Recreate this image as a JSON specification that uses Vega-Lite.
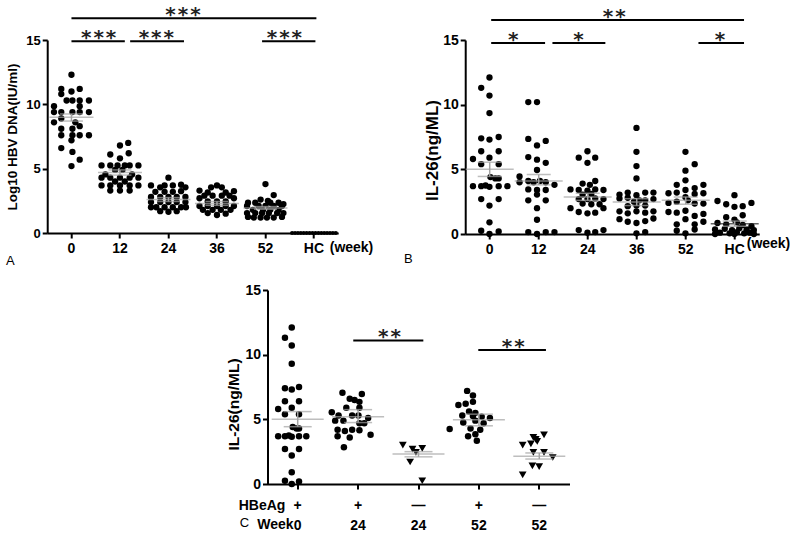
{
"$schema":"https://vega.github.io/schema/vega-lite/v6.json",
"padding":{"left":5,"top":5,"right":0,"bottom":0},
"background":"white",
"config":{"view":{"stroke":null},"font":"Liberation Sans",
 "axis":{"domainColor":"black","domainWidth":2,"tickColor":"black","tickWidth":2,"tickSize":5,"labelColor":"black","labelFont":"Liberation Sans","labelFontWeight":"bold","titleFont":"Liberation Sans","titleFontWeight":"bold","titleColor":"black","grid":false}},
"datasets":{
"ptsA":[
{"g":"0","v":12.3,"dx":0},{"g":"0","v":11.2,"dx":-0.21},{"g":"0","v":11.2,"dx":0.17},{"g":"0","v":11.0,"dx":0},{"g":"0","v":10.8,"dx":-0.21},{"g":"0","v":10.3,"dx":-0.1},{"g":"0","v":10.3,"dx":0.02},{"g":"0","v":10.3,"dx":0.17},{"g":"0","v":10.3,"dx":0.36},{"g":"0","v":9.85,"dx":-0.36},{"g":"0","v":9.85,"dx":0.17},{"g":"0","v":9.4,"dx":-0.36},{"g":"0","v":9.4,"dx":-0.21},{"g":"0","v":9.4,"dx":0.02},{"g":"0","v":9.4,"dx":0.17},{"g":"0","v":9.4,"dx":0.36},{"g":"0","v":8.9,"dx":-0.21},{"g":"0","v":8.6,"dx":-0.36},{"g":"0","v":8.6,"dx":0.08},{"g":"0","v":8.1,"dx":-0.21},{"g":"0","v":8.1,"dx":0.02},{"g":"0","v":8.3,"dx":0.17},{"g":"0","v":7.6,"dx":-0.21},{"g":"0","v":7.6,"dx":0.02},{"g":"0","v":7.6,"dx":0.17},{"g":"0","v":7.6,"dx":0.36},{"g":"0","v":7.2,"dx":0},{"g":"0","v":6.6,"dx":-0.21},{"g":"0","v":6.3,"dx":0.02},{"g":"0","v":5.7,"dx":0.17},{"g":"0","v":5.2,"dx":0},
{"g":"12","v":7.0,"dx":0.17},{"g":"12","v":6.8,"dx":0},{"g":"12","v":6.1,"dx":-0.2},{"g":"12","v":6.2,"dx":0.18},{"g":"12","v":5.8,"dx":0},{"g":"12","v":5.25,"dx":-0.38},{"g":"12","v":5.25,"dx":-0.2},{"g":"12","v":5.25,"dx":-0.05},{"g":"12","v":5.25,"dx":0.1},{"g":"12","v":5.25,"dx":0.2},{"g":"12","v":5.25,"dx":0.38},{"g":"12","v":4.9,"dx":-0.1},{"g":"12","v":4.9,"dx":0.05},{"g":"12","v":4.55,"dx":-0.3},{"g":"12","v":4.55,"dx":0.25},{"g":"12","v":4.3,"dx":-0.38},{"g":"12","v":4.3,"dx":-0.2},{"g":"12","v":4.3,"dx":0},{"g":"12","v":4.3,"dx":0.2},{"g":"12","v":4.3,"dx":0.38},{"g":"12","v":4.0,"dx":-0.1},{"g":"12","v":4.0,"dx":0.1},{"g":"12","v":3.7,"dx":-0.38},{"g":"12","v":3.7,"dx":-0.2},{"g":"12","v":3.7,"dx":0},{"g":"12","v":3.7,"dx":0.2},{"g":"12","v":3.7,"dx":0.38},{"g":"12","v":3.3,"dx":-0.2},{"g":"12","v":3.3,"dx":0},{"g":"12","v":3.3,"dx":0.2},
{"g":"24","v":4.3,"dx":0},{"g":"24","v":3.7,"dx":-0.36},{"g":"24","v":3.55,"dx":-0.17},{"g":"24","v":3.7,"dx":-0.08},{"g":"24","v":3.7,"dx":0.09},{"g":"24","v":3.75,"dx":0.26},{"g":"24","v":3.55,"dx":0.35},{"g":"24","v":3.2,"dx":-0.27},{"g":"24","v":3.2,"dx":-0.08},{"g":"24","v":3.2,"dx":0.09},{"g":"24","v":3.25,"dx":0.26},{"g":"24","v":2.8,"dx":-0.36},{"g":"24","v":2.8,"dx":-0.17},{"g":"24","v":2.8,"dx":0},{"g":"24","v":2.8,"dx":0.17},{"g":"24","v":2.8,"dx":0.35},{"g":"24","v":2.4,"dx":-0.36},{"g":"24","v":2.4,"dx":-0.17},{"g":"24","v":2.4,"dx":0},{"g":"24","v":2.4,"dx":0.17},{"g":"24","v":2.4,"dx":0.35},{"g":"24","v":2.0,"dx":-0.36},{"g":"24","v":2.0,"dx":-0.25},{"g":"24","v":2.0,"dx":-0.08},{"g":"24","v":2.0,"dx":0.09},{"g":"24","v":2.0,"dx":0.26},{"g":"24","v":2.0,"dx":0.36},{"g":"24","v":1.7,"dx":-0.17},{"g":"24","v":1.65,"dx":0},{"g":"24","v":1.7,"dx":0.17},
{"g":"36","v":3.7,"dx":0},{"g":"36","v":3.55,"dx":-0.12},{"g":"36","v":3.55,"dx":0.1},{"g":"36","v":3.3,"dx":-0.36},{"g":"36","v":3.25,"dx":0.35},{"g":"36","v":3.15,"dx":-0.19},{"g":"36","v":3.15,"dx":0.18},{"g":"36","v":2.9,"dx":-0.26},{"g":"36","v":2.9,"dx":-0.09},{"g":"36","v":2.9,"dx":0.1},{"g":"36","v":2.9,"dx":0.26},{"g":"36","v":2.7,"dx":-0.36},{"g":"36","v":2.7,"dx":0.35},{"g":"36","v":2.45,"dx":-0.19},{"g":"36","v":2.45,"dx":0},{"g":"36","v":2.45,"dx":0.18},{"g":"36","v":2.1,"dx":-0.36},{"g":"36","v":2.1,"dx":-0.19},{"g":"36","v":2.1,"dx":0},{"g":"36","v":2.1,"dx":0.18},{"g":"36","v":2.1,"dx":0.35},{"g":"36","v":1.8,"dx":-0.29},{"g":"36","v":1.8,"dx":-0.09},{"g":"36","v":1.8,"dx":0.08},{"g":"36","v":1.8,"dx":0.28},{"g":"36","v":1.55,"dx":-0.19},{"g":"36","v":1.5,"dx":0.18},{"g":"36","v":1.4,"dx":0},
{"g":"52","v":3.8,"dx":0},{"g":"52","v":2.95,"dx":0.17},{"g":"52","v":2.6,"dx":-0.1},{"g":"52","v":2.5,"dx":0.05},{"g":"52","v":2.35,"dx":-0.36},{"g":"52","v":2.35,"dx":-0.21},{"g":"52","v":2.35,"dx":0.1},{"g":"52","v":2.35,"dx":0.27},{"g":"52","v":2.25,"dx":0.37},{"g":"52","v":2.1,"dx":-0.38},{"g":"52","v":2.1,"dx":-0.14},{"g":"52","v":2.1,"dx":0},{"g":"52","v":2.1,"dx":0.17},{"g":"52","v":2.1,"dx":0.34},{"g":"52","v":1.8,"dx":-0.26},{"g":"52","v":1.8,"dx":-0.05},{"g":"52","v":1.8,"dx":0.1},{"g":"52","v":1.8,"dx":0.27},{"g":"52","v":1.55,"dx":-0.38},{"g":"52","v":1.55,"dx":-0.21},{"g":"52","v":1.55,"dx":-0.07},{"g":"52","v":1.55,"dx":0.07},{"g":"52","v":1.55,"dx":0.24},{"g":"52","v":1.55,"dx":0.37},{"g":"52","v":1.25,"dx":-0.36},{"g":"52","v":1.2,"dx":-0.24},{"g":"52","v":1.2,"dx":-0.1},{"g":"52","v":1.2,"dx":0.03},{"g":"52","v":1.2,"dx":0.17},{"g":"52","v":1.25,"dx":0.34},
{"g":"HC","v":0,"dx":-0.45},{"g":"HC","v":0,"dx":-0.39},{"g":"HC","v":0,"dx":-0.33},{"g":"HC","v":0,"dx":-0.27},{"g":"HC","v":0,"dx":-0.21},{"g":"HC","v":0,"dx":-0.15},{"g":"HC","v":0,"dx":-0.09},{"g":"HC","v":0,"dx":-0.03},{"g":"HC","v":0,"dx":0.03},{"g":"HC","v":0,"dx":0.09},{"g":"HC","v":0,"dx":0.15},{"g":"HC","v":0,"dx":0.21},{"g":"HC","v":0,"dx":0.27},{"g":"HC","v":0,"dx":0.33},{"g":"HC","v":0,"dx":0.39},{"g":"HC","v":0,"dx":0.45}
],
"sumA":[{"g":"0","m":9.0,"lo":8.7,"hi":9.25},{"g":"12","m":4.7,"lo":4.5,"hi":4.9},{"g":"24","m":2.6,"lo":2.45,"hi":2.75},{"g":"36","m":2.3,"lo":2.15,"hi":2.45},{"g":"52","m":1.95,"lo":1.85,"hi":2.05},{"g":"HC","m":0,"lo":0,"hi":0}],
"sigA":[{"x1":0,"x2":5.05,"y":16.7,"t":"*\u200a*\u200a*","tx":2.3},{"x1":0,"x2":1.1,"y":14.9,"t":"*\u200a*\u200a*","tx":0.56},{"x1":1.21,"x2":2.32,"y":14.9,"t":"*\u200a*\u200a*","tx":1.75},{"x1":3.93,"x2":5.03,"y":14.9,"t":"*\u200a*\u200a*","tx":4.39}],
"ptsB":[
{"g":"0","v":12.1,"dx":0},{"g":"0","v":11.3,"dx":-0.17},{"g":"0","v":10.7,"dx":0},{"g":"0","v":9.35,"dx":0},{"g":"0","v":7.4,"dx":-0.17},{"g":"0","v":7.3,"dx":0},{"g":"0","v":7.5,"dx":0.19},{"g":"0","v":6.4,"dx":-0.17},{"g":"0","v":6.4,"dx":0.19},{"g":"0","v":5.9,"dx":0},{"g":"0","v":5.8,"dx":-0.34},{"g":"0","v":5.4,"dx":-0.17},{"g":"0","v":5.4,"dx":0.19},{"g":"0","v":4.4,"dx":0.02},{"g":"0","v":4.3,"dx":0.12},{"g":"0","v":4.3,"dx":0.19},{"g":"0","v":3.7,"dx":-0.34},{"g":"0","v":3.7,"dx":-0.17},{"g":"0","v":3.75,"dx":-0.08},{"g":"0","v":3.65,"dx":0},{"g":"0","v":3.7,"dx":0.19},{"g":"0","v":3.7,"dx":0.37},{"g":"0","v":2.7,"dx":-0.17},{"g":"0","v":2.7,"dx":0.19},{"g":"0","v":2.2,"dx":0},{"g":"0","v":0.9,"dx":0},{"g":"0","v":0.25,"dx":-0.17},{"g":"0","v":0.2,"dx":0.19},{"g":"0","v":0.0,"dx":0},
{"g":"12","v":10.2,"dx":-0.21},{"g":"12","v":10.2,"dx":-0.03},{"g":"12","v":7.35,"dx":-0.21},{"g":"12","v":7.2,"dx":0.15},{"g":"12","v":6.85,"dx":-0.03},{"g":"12","v":5.95,"dx":-0.21},{"g":"12","v":5.75,"dx":-0.03},{"g":"12","v":5.5,"dx":0.15},{"g":"12","v":4.95,"dx":-0.03},{"g":"12","v":4.45,"dx":-0.39},{"g":"12","v":4.1,"dx":-0.21},{"g":"12","v":4.0,"dx":-0.1},{"g":"12","v":4.1,"dx":0.03},{"g":"12","v":4.0,"dx":0.15},{"g":"12","v":3.8,"dx":0.33},{"g":"12","v":4.0,"dx":-0.39},{"g":"12","v":3.45,"dx":-0.21},{"g":"12","v":3.4,"dx":-0.03},{"g":"12","v":3.4,"dx":0.15},{"g":"12","v":3.05,"dx":-0.03},{"g":"12","v":2.6,"dx":-0.21},{"g":"12","v":2.6,"dx":0.15},{"g":"12","v":2.0,"dx":-0.03},{"g":"12","v":1.1,"dx":-0.03},{"g":"12","v":0.15,"dx":-0.21},{"g":"12","v":0.0,"dx":-0.03},{"g":"12","v":0.15,"dx":0.15},{"g":"12","v":0.15,"dx":0.33},
{"g":"24","v":6.4,"dx":0},{"g":"24","v":5.9,"dx":-0.18},{"g":"24","v":5.9,"dx":0.16},{"g":"24","v":5.5,"dx":0},{"g":"24","v":4.1,"dx":0.16},{"g":"24","v":3.9,"dx":-0.1},{"g":"24","v":3.8,"dx":0.05},{"g":"24","v":3.45,"dx":-0.35},{"g":"24","v":3.4,"dx":-0.18},{"g":"24","v":3.35,"dx":0},{"g":"24","v":3.45,"dx":0.16},{"g":"24","v":3.4,"dx":0.33},{"g":"24","v":3.05,"dx":-0.1},{"g":"24","v":3.1,"dx":0.08},{"g":"24","v":2.7,"dx":-0.18},{"g":"24","v":2.7,"dx":0},{"g":"24","v":2.75,"dx":0.16},{"g":"24","v":2.7,"dx":0.33},{"g":"24","v":2.35,"dx":-0.1},{"g":"24","v":2.3,"dx":0.08},{"g":"24","v":2.3,"dx":0.25},{"g":"24","v":2.0,"dx":-0.35},{"g":"24","v":2.0,"dx":0.33},{"g":"24","v":1.7,"dx":-0.18},{"g":"24","v":1.6,"dx":0},{"g":"24","v":1.65,"dx":0.16},{"g":"24","v":0.3,"dx":-0.18},{"g":"24","v":0.1,"dx":0},{"g":"24","v":0.15,"dx":0.16},{"g":"24","v":0.3,"dx":0.33},
{"g":"36","v":8.2,"dx":0},{"g":"36","v":6.35,"dx":0},{"g":"36","v":5.25,"dx":0},{"g":"36","v":4.3,"dx":0},{"g":"36","v":3.2,"dx":-0.18},{"g":"36","v":3.2,"dx":0.18},{"g":"36","v":3.0,"dx":0},{"g":"36","v":3.2,"dx":0.35},{"g":"36","v":3.05,"dx":-0.35},{"g":"36","v":2.75,"dx":-0.35},{"g":"36","v":2.8,"dx":-0.18},{"g":"36","v":2.6,"dx":0.06},{"g":"36","v":2.6,"dx":0.18},{"g":"36","v":2.5,"dx":-0.05},{"g":"36","v":2.7,"dx":0.35},{"g":"36","v":2.15,"dx":-0.18},{"g":"36","v":2.2,"dx":0},{"g":"36","v":2.2,"dx":0.18},{"g":"36","v":1.75,"dx":-0.35},{"g":"36","v":1.6,"dx":-0.18},{"g":"36","v":1.75,"dx":0},{"g":"36","v":1.65,"dx":0.18},{"g":"36","v":1.75,"dx":0.35},{"g":"36","v":1.15,"dx":-0.35},{"g":"36","v":0.95,"dx":-0.18},{"g":"36","v":0.85,"dx":0},{"g":"36","v":1.0,"dx":0.18},{"g":"36","v":1.2,"dx":0.35},{"g":"36","v":0.05,"dx":0},{"g":"36","v":0.15,"dx":0.18},
{"g":"52","v":6.35,"dx":0},{"g":"52","v":5.4,"dx":0.19},{"g":"52","v":4.9,"dx":0},{"g":"52","v":4.15,"dx":0},{"g":"52","v":3.8,"dx":-0.18},{"g":"52","v":3.55,"dx":0.19},{"g":"52","v":3.8,"dx":0.37},{"g":"52","v":3.15,"dx":-0.35},{"g":"52","v":3.2,"dx":-0.18},{"g":"52","v":3.4,"dx":0},{"g":"52","v":3.1,"dx":0.19},{"g":"52","v":3.15,"dx":0.37},{"g":"52","v":2.85,"dx":0},{"g":"52","v":2.4,"dx":-0.35},{"g":"52","v":2.5,"dx":-0.18},{"g":"52","v":2.6,"dx":0.05},{"g":"52","v":2.35,"dx":0.19},{"g":"52","v":2.35,"dx":0.37},{"g":"52","v":1.7,"dx":-0.35},{"g":"52","v":1.65,"dx":-0.18},{"g":"52","v":1.8,"dx":0},{"g":"52","v":1.4,"dx":0.19},{"g":"52","v":1.55,"dx":0.37},{"g":"52","v":0.75,"dx":-0.18},{"g":"52","v":1.15,"dx":0},{"g":"52","v":0.75,"dx":0.19},{"g":"52","v":0.95,"dx":0.37},{"g":"52","v":0.25,"dx":-0.18},{"g":"52","v":0.05,"dx":0},{"g":"52","v":0.35,"dx":0.19},
{"g":"HC","v":3.0,"dx":0},{"g":"HC","v":2.55,"dx":-0.35},{"g":"HC","v":2.3,"dx":-0.17},{"g":"HC","v":2.15,"dx":0.17},{"g":"HC","v":2.4,"dx":0.35},{"g":"HC","v":2.1,"dx":0},{"g":"HC","v":1.45,"dx":0.17},{"g":"HC","v":1.3,"dx":-0.17},{"g":"HC","v":1.1,"dx":0},{"g":"HC","v":0.85,"dx":-0.35},{"g":"HC","v":0.75,"dx":-0.17},{"g":"HC","v":0.9,"dx":0.05},{"g":"HC","v":0.7,"dx":0.17},{"g":"HC","v":0.6,"dx":0.35},{"g":"HC","v":0.35,"dx":-0.4},{"g":"HC","v":0.4,"dx":-0.2},{"g":"HC","v":0.3,"dx":-0.05},{"g":"HC","v":0.45,"dx":0.1},{"g":"HC","v":0.35,"dx":0.25},{"g":"HC","v":0.3,"dx":0.4},{"g":"HC","v":0.1,"dx":-0.3},{"g":"HC","v":0.05,"dx":-0.1},{"g":"HC","v":0.15,"dx":0.05},{"g":"HC","v":0.05,"dx":0.2},{"g":"HC","v":0.1,"dx":0.32},{"g":"HC","v":0.0,"dx":-0.4},{"g":"HC","v":0.0,"dx":0.0},{"g":"HC","v":0.0,"dx":0.4}
],
"sumB":[{"g":"0","m":5.0,"lo":4.45,"hi":5.55},{"g":"12","m":4.1,"lo":3.8,"hi":4.6},{"g":"24","m":2.86,"lo":2.6,"hi":3.15},{"g":"36","m":2.47,"lo":2.2,"hi":2.73},{"g":"52","m":2.6,"lo":2.3,"hi":2.86},{"g":"HC","m":0.8,"lo":0.6,"hi":1.0}],
"sigB":[{"x1":0.03,"x2":5.19,"y":16.55,"t":"*\u200a*","tx":2.54},{"x1":0.03,"x2":1.13,"y":14.77,"t":"*","tx":0.48},{"x1":1.28,"x2":2.36,"y":14.77,"t":"*","tx":1.81},{"x1":4.26,"x2":5.19,"y":14.77,"t":"*","tx":4.7}],
"ptsC":[
{"g":"0+","v":12.1,"dx":0},{"g":"0+","v":11.3,"dx":-0.14},{"g":"0+","v":10.7,"dx":0},{"g":"0+","v":9.3,"dx":0},{"g":"0+","v":7.4,"dx":-0.14},{"g":"0+","v":7.3,"dx":0},{"g":"0+","v":7.5,"dx":0.15},{"g":"0+","v":6.4,"dx":-0.14},{"g":"0+","v":6.4,"dx":0.15},{"g":"0+","v":5.9,"dx":0},{"g":"0+","v":5.8,"dx":-0.28},{"g":"0+","v":5.4,"dx":-0.14},{"g":"0+","v":5.4,"dx":0.15},{"g":"0+","v":4.4,"dx":0.02},{"g":"0+","v":4.3,"dx":0.1},{"g":"0+","v":4.3,"dx":0.15},{"g":"0+","v":3.7,"dx":-0.28},{"g":"0+","v":3.7,"dx":-0.14},{"g":"0+","v":3.75,"dx":-0.06},{"g":"0+","v":3.65,"dx":0},{"g":"0+","v":3.7,"dx":0.15},{"g":"0+","v":3.7,"dx":0.3},{"g":"0+","v":2.7,"dx":-0.14},{"g":"0+","v":2.7,"dx":0.15},{"g":"0+","v":2.2,"dx":0},{"g":"0+","v":0.9,"dx":0},{"g":"0+","v":0.25,"dx":-0.14},{"g":"0+","v":0.2,"dx":0.15},{"g":"0+","v":0.0,"dx":0},
{"g":"24+","v":7.05,"dx":-0.2},{"g":"24+","v":6.95,"dx":0.2},{"g":"24+","v":6.6,"dx":-0.05},{"g":"24+","v":6.5,"dx":0.05},{"g":"24+","v":6.35,"dx":0.15},{"g":"24+","v":5.9,"dx":-0.12},{"g":"24+","v":5.9,"dx":0.15},{"g":"24+","v":5.55,"dx":-0.42},{"g":"24+","v":5.3,"dx":-0.28},{"g":"24+","v":5.3,"dx":0},{"g":"24+","v":5.3,"dx":0.13},{"g":"24+","v":5.1,"dx":0.33},{"g":"24+","v":4.9,"dx":-0.35},{"g":"24+","v":4.9,"dx":-0.18},{"g":"24+","v":4.7,"dx":0.15},{"g":"24+","v":4.7,"dx":0.25},{"g":"24+","v":4.2,"dx":-0.3},{"g":"24+","v":4.1,"dx":-0.15},{"g":"24+","v":4.2,"dx":0},{"g":"24+","v":4.15,"dx":0.15},{"g":"24+","v":3.7,"dx":-0.3},{"g":"24+","v":3.6,"dx":-0.05},{"g":"24+","v":3.8,"dx":0.38},{"g":"24+","v":2.85,"dx":-0.17},
{"g":"52+","v":7.2,"dx":-0.12},{"g":"52+","v":6.85,"dx":0},{"g":"52+","v":6.35,"dx":0},{"g":"52+","v":6.2,"dx":-0.15},{"g":"52+","v":6.1,"dx":-0.3},{"g":"52+","v":5.6,"dx":-0.08},{"g":"52+","v":5.5,"dx":0.05},{"g":"52+","v":5.3,"dx":-0.22},{"g":"52+","v":5.25,"dx":0},{"g":"52+","v":5.2,"dx":0.18},{"g":"52+","v":5.1,"dx":0.35},{"g":"52+","v":4.75,"dx":-0.2},{"g":"52+","v":4.9,"dx":0.05},{"g":"52+","v":4.7,"dx":0.22},{"g":"52+","v":4.25,"dx":-0.48},{"g":"52+","v":4.3,"dx":-0.05},{"g":"52+","v":4.2,"dx":0.15},{"g":"52+","v":3.7,"dx":-0.1},{"g":"52+","v":3.85,"dx":0.05},{"g":"52+","v":3.35,"dx":0.08}
],
"triC":[
{"g":"24-","v":3.0,"dx":-0.2},{"g":"24-","v":2.7,"dx":0},{"g":"24-","v":2.75,"dx":0.2},{"g":"24-","v":2.45,"dx":0.07},{"g":"24-","v":1.7,"dx":-0.05},{"g":"24-","v":0.25,"dx":0.2},
{"g":"52-","v":3.8,"dx":0.22},{"g":"52-","v":3.6,"dx":0.0},{"g":"52-","v":3.45,"dx":0.05},{"g":"52-","v":3.3,"dx":0.08},{"g":"52-","v":3.0,"dx":-0.22},{"g":"52-","v":3.1,"dx":-0.05},{"g":"52-","v":2.45,"dx":0.0},{"g":"52-","v":2.45,"dx":0.22},{"g":"52-","v":2.05,"dx":0.4},{"g":"52-","v":1.4,"dx":-0.02},{"g":"52-","v":1.35,"dx":0.12},{"g":"52-","v":0.7,"dx":-0.22}
],
"sumC":[{"g":"0+","m":5.0,"lo":4.43,"hi":5.6},{"g":"24+","m":5.2,"lo":4.75,"hi":5.75},{"g":"24-","m":2.32,"lo":2.1,"hi":2.5},{"g":"52+","m":4.97,"lo":4.5,"hi":5.4},{"g":"52-","m":2.14,"lo":1.93,"hi":2.4}],
"sigC":[{"x1":0.92,"x2":2.08,"y":11.1,"t":"*\u200a*","tx":1.52},{"x1":2.99,"x2":4.11,"y":10.36,"t":"*\u200a*","tx":3.57}]
},
"spacing":14,
"center":true,
"vconcat":[
{"hconcat":[
{"width":291,"height":193,
 "resolve":{"scale":{"x":"independent"}},
 "layer":[
  {"data":{"name":"ptsA"},"transform":[{"filter":"datum.g !== 'HC'"}],
   "mark":{"type":"circle","size":40,"color":"black","opacity":1},
   "encoding":{
    "x":{"field":"g","type":"nominal","scale":{"domain":["0","12","24","36","52","HC"],"paddingInner":0,"paddingOuter":0},
      "axis":{"title":"(week)","labelAngle":0,"labelFontSize":14,"labelPadding":3,"titleX":282,"titleY":14,"titleAlign":"left","titleBaseline":"middle","titleFontSize":14}},
    "xOffset":{"field":"dx","type":"quantitative","scale":{"domain":[-0.5,0.5]}},
    "y":{"field":"v","type":"quantitative","scale":{"domain":[0,15],"nice":false},
      "axis":{"values":[0,5,10,15],"title":"Log10 HBV DNA(IU/ml)","labelFontSize":13,"labelPadding":2,"titleFontSize":13.5,"titlePadding":6}}}},
  {"data":{"name":"sumA"},"mark":{"type":"tick","size":44,"thickness":1.5,"color":"#a3a3a3"},
   "encoding":{"x":{"field":"g","type":"nominal","scale":{"domain":["0","12","24","36","52","HC"],"paddingInner":0,"paddingOuter":0},"axis":null},
    "y":{"field":"m","type":"quantitative","scale":{"domain":[0,15],"nice":false}}}},
  {"data":{"name":"sumA"},"transform":[{"fold":["lo","hi"]}],"mark":{"type":"tick","size":23,"thickness":1.5,"color":"#a3a3a3"},
   "encoding":{"x":{"field":"g","type":"nominal","scale":{"domain":["0","12","24","36","52","HC"],"paddingInner":0,"paddingOuter":0},"axis":null},
    "y":{"field":"value","type":"quantitative","scale":{"domain":[0,15],"nice":false}}}},
  {"data":{"name":"sumA"},"mark":{"type":"rule","strokeWidth":1.5,"color":"#a3a3a3"},
   "encoding":{"x":{"field":"g","type":"nominal","scale":{"domain":["0","12","24","36","52","HC"],"paddingInner":0,"paddingOuter":0},"axis":null},
    "y":{"field":"lo","type":"quantitative","scale":{"domain":[0,15],"nice":false}},"y2":{"field":"hi"}}},
  {"data":{"name":"ptsA"},"transform":[{"filter":"datum.g === 'HC'"}],
   "mark":{"type":"circle","size":18,"color":"black","opacity":1},
   "encoding":{
    "x":{"field":"g","type":"nominal","scale":{"domain":["0","12","24","36","52","HC"],"paddingInner":0,"paddingOuter":0},"axis":null},
    "xOffset":{"field":"dx","type":"quantitative","scale":{"domain":[-0.5,0.5]}},
    "y":{"field":"v","type":"quantitative","scale":{"domain":[0,15],"nice":false}}}},
  {"data":{"name":"sigA"},"mark":{"type":"rule","strokeWidth":2,"color":"black"},
   "encoding":{"x":{"field":"x1","type":"quantitative","scale":{"domain":[-0.5,5.5],"nice":false,"zero":false},"axis":null},"x2":{"field":"x2"},
    "y":{"field":"y","type":"quantitative","scale":{"domain":[0,15],"nice":false}}}},
  {"data":{"name":"sigA"},"mark":{"type":"text","font":"DejaVu Sans","fontSize":20,"fontWeight":"bold","baseline":"alphabetic","dy":3,"color":"#222"},
   "encoding":{"x":{"field":"tx","type":"quantitative","scale":{"domain":[-0.5,5.5],"nice":false,"zero":false},"axis":null},
    "y":{"field":"y","type":"quantitative","scale":{"domain":[0,15],"nice":false}},"text":{"field":"t"}}},
  {"data":{"values":[{"x":-1.26,"y":-2.18,"t":"A"}]},"mark":{"type":"text","fontSize":13,"baseline":"middle","color":"black"},
   "encoding":{"x":{"field":"x","type":"quantitative","scale":{"domain":[-0.5,5.5],"nice":false,"zero":false},"axis":null},
    "y":{"field":"y","type":"quantitative","scale":{"domain":[0,15],"nice":false}},"text":{"field":"t"}}}
 ]},
{"width":294,"height":194,
 "resolve":{"scale":{"x":"independent"}},
 "layer":[
  {"data":{"name":"ptsB"},
   "mark":{"type":"circle","size":40,"color":"black","opacity":1},
   "encoding":{
    "x":{"field":"g","type":"nominal","scale":{"domain":["0","12","24","36","52","HC"],"paddingInner":0,"paddingOuter":0},
      "axis":{"title":"(week)","labelAngle":0,"labelFontSize":14,"labelPadding":3,"titleX":281,"titleY":9,"titleAlign":"left","titleBaseline":"middle","titleFontSize":14}},
    "xOffset":{"field":"dx","type":"quantitative","scale":{"domain":[-0.5,0.5]}},
    "y":{"field":"v","type":"quantitative","scale":{"domain":[0,15],"nice":false},
      "axis":{"values":[0,5,10,15],"title":"IL-26(ng/ML)","labelFontSize":14,"labelPadding":2,"titleFontSize":17,"titlePadding":1,"titleY":110}}}},
  {"data":{"name":"sumB"},"mark":{"type":"tick","size":48,"thickness":1.5},
   "encoding":{"x":{"field":"g","type":"nominal","scale":{"domain":["0","12","24","36","52","HC"],"paddingInner":0,"paddingOuter":0},"axis":null},
    "y":{"field":"m","type":"quantitative","scale":{"domain":[0,15],"nice":false}},
    "color":{"condition":{"test":"datum.g === 'HC'","value":"#222222"},"value":"#a3a3a3"}}},
  {"data":{"name":"sumB"},"transform":[{"fold":["lo","hi"]}],"mark":{"type":"tick","size":24,"thickness":1.5,"color":"#a3a3a3"},
   "encoding":{"x":{"field":"g","type":"nominal","scale":{"domain":["0","12","24","36","52","HC"],"paddingInner":0,"paddingOuter":0},"axis":null},
    "y":{"field":"value","type":"quantitative","scale":{"domain":[0,15],"nice":false}}}},
  {"data":{"name":"sumB"},"mark":{"type":"rule","strokeWidth":1.5,"color":"#a3a3a3"},
   "encoding":{"x":{"field":"g","type":"nominal","scale":{"domain":["0","12","24","36","52","HC"],"paddingInner":0,"paddingOuter":0},"axis":null},
    "y":{"field":"lo","type":"quantitative","scale":{"domain":[0,15],"nice":false}},"y2":{"field":"hi"}}},
  {"data":{"name":"sigB"},"mark":{"type":"rule","strokeWidth":2,"color":"black"},
   "encoding":{"x":{"field":"x1","type":"quantitative","scale":{"domain":[-0.5,5.5],"nice":false,"zero":false},"axis":null},"x2":{"field":"x2"},
    "y":{"field":"y","type":"quantitative","scale":{"domain":[0,15],"nice":false}}}},
  {"data":{"name":"sigB"},"mark":{"type":"text","font":"DejaVu Sans","fontSize":20,"fontWeight":"bold","baseline":"alphabetic","dy":3,"color":"#222"},
   "encoding":{"x":{"field":"tx","type":"quantitative","scale":{"domain":[-0.5,5.5],"nice":false,"zero":false},"axis":null},
    "y":{"field":"y","type":"quantitative","scale":{"domain":[0,15],"nice":false}},"text":{"field":"t"}}},
  {"data":{"values":[{"x":-1.66,"y":-1.93,"t":"B"}]},"mark":{"type":"text","fontSize":13,"baseline":"middle","color":"black"},
   "encoding":{"x":{"field":"x","type":"quantitative","scale":{"domain":[-0.5,5.5],"nice":false,"zero":false},"axis":null},
    "y":{"field":"y","type":"quantitative","scale":{"domain":[0,15],"nice":false}},"text":{"field":"t"}}}
 ]}
],"spacing":30},
{"width":302,"height":194,
 "resolve":{"scale":{"x":"independent"}},
 "layer":[
  {"data":{"name":"ptsC"},
   "mark":{"type":"circle","size":42,"color":"black","opacity":1},
   "encoding":{
    "x":{"field":"g","type":"nominal","scale":{"domain":["0+","24+","24-","52+","52-"],"paddingInner":0,"paddingOuter":0},
      "axis":{"title":null,"labelAngle":0,"labelFontSize":14,"labelPadding":9,"labelLineHeight":20,
       "labelExpr":"[indexof(datum.label,'+')>=0 ? '+' : '—', replace(replace(datum.label,'+',''),'-','')]"}},
    "xOffset":{"field":"dx","type":"quantitative","scale":{"domain":[-0.5,0.5]}},
    "y":{"field":"v","type":"quantitative","scale":{"domain":[0,15],"nice":false},
      "axis":{"values":[0,5,10,15],"title":"IL-26(ng/ML)","labelFontSize":14,"labelPadding":2,"titleFontSize":15.5,"titlePadding":3,"titleY":114}}}},
  {"data":{"name":"triC"},
   "mark":{"type":"point","shape":"triangle-down","filled":true,"size":60,"color":"black","opacity":1},
   "encoding":{
    "x":{"field":"g","type":"nominal","scale":{"domain":["0+","24+","24-","52+","52-"],"paddingInner":0,"paddingOuter":0},"axis":null},
    "xOffset":{"field":"dx","type":"quantitative","scale":{"domain":[-0.5,0.5]}},
    "y":{"field":"v","type":"quantitative","scale":{"domain":[0,15],"nice":false}}}},
  {"data":{"name":"sumC"},"mark":{"type":"tick","size":52,"thickness":1.5,"color":"#a3a3a3"},
   "encoding":{"x":{"field":"g","type":"nominal","scale":{"domain":["0+","24+","24-","52+","52-"],"paddingInner":0,"paddingOuter":0},"axis":null},
    "y":{"field":"m","type":"quantitative","scale":{"domain":[0,15],"nice":false}}}},
  {"data":{"name":"sumC"},"transform":[{"fold":["lo","hi"]}],"mark":{"type":"tick","size":28,"thickness":1.5,"color":"#a3a3a3"},
   "encoding":{"x":{"field":"g","type":"nominal","scale":{"domain":["0+","24+","24-","52+","52-"],"paddingInner":0,"paddingOuter":0},"axis":null},
    "y":{"field":"value","type":"quantitative","scale":{"domain":[0,15],"nice":false}}}},
  {"data":{"name":"sumC"},"mark":{"type":"rule","strokeWidth":1.5,"color":"#a3a3a3"},
   "encoding":{"x":{"field":"g","type":"nominal","scale":{"domain":["0+","24+","24-","52+","52-"],"paddingInner":0,"paddingOuter":0},"axis":null},
    "y":{"field":"lo","type":"quantitative","scale":{"domain":[0,15],"nice":false}},"y2":{"field":"hi"}}},
  {"data":{"name":"sigC"},"mark":{"type":"rule","strokeWidth":2,"color":"black"},
   "encoding":{"x":{"field":"x1","type":"quantitative","scale":{"domain":[-0.5,4.5],"nice":false,"zero":false},"axis":null},"x2":{"field":"x2"},
    "y":{"field":"y","type":"quantitative","scale":{"domain":[0,15],"nice":false}}}},
  {"data":{"name":"sigC"},"mark":{"type":"text","font":"DejaVu Sans","fontSize":20,"fontWeight":"bold","baseline":"alphabetic","dy":3,"color":"#222"},
   "encoding":{"x":{"field":"tx","type":"quantitative","scale":{"domain":[-0.5,4.5],"nice":false,"zero":false},"axis":null},
    "y":{"field":"y","type":"quantitative","scale":{"domain":[0,15],"nice":false}},"text":{"field":"t"}}},
  {"data":{"values":[{"x":-0.59,"y":-1.7,"t":"HBeAg"},{"x":-0.37,"y":-3.2,"t":"Week"}]},"mark":{"type":"text","fontSize":14,"fontWeight":"bold","baseline":"middle","color":"black"},
   "encoding":{"x":{"field":"x","type":"quantitative","scale":{"domain":[-0.5,4.5],"nice":false,"zero":false},"axis":null},
    "y":{"field":"y","type":"quantitative","scale":{"domain":[0,15],"nice":false}},"text":{"field":"t"}}},
  {"data":{"values":[{"x":-0.88,"y":-3.05,"t":"C"}]},"mark":{"type":"text","fontSize":13,"baseline":"middle","color":"black"},
   "encoding":{"x":{"field":"x","type":"quantitative","scale":{"domain":[-0.5,4.5],"nice":false,"zero":false},"axis":null},
    "y":{"field":"y","type":"quantitative","scale":{"domain":[0,15],"nice":false}},"text":{"field":"t"}}}
 ]}
]
}
